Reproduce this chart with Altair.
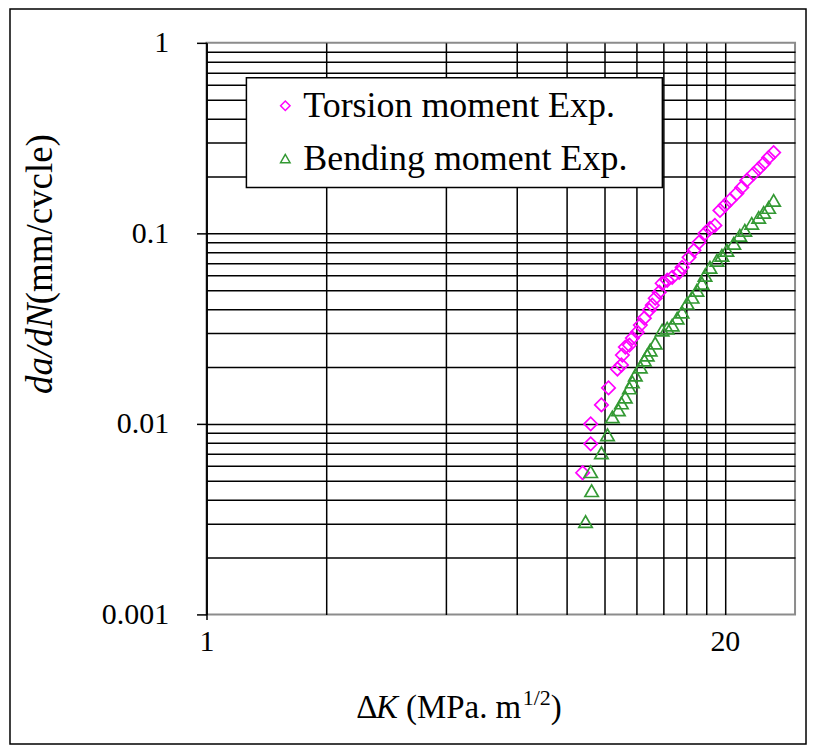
import altair as alt
import pandas as pd

# ---- data ----
series_names = ["Torsion moment Exp.", "Bending moment Exp."]

torsion_dk = [8.79, 9.21, 9.21, 9.80, 10.21, 10.75, 11.00, 11.06, 11.25, 11.52,
              11.72, 12.06, 12.27, 12.56, 12.92, 13.15, 13.37, 13.69, 13.92, 14.33,
              14.75, 15.36, 15.62, 16.26, 16.73, 17.22, 17.83, 18.35, 18.88, 19.44,
              20.00, 20.58, 21.43, 22.05, 22.70, 23.63, 24.32, 25.03, 25.76, 26.51]
torsion_rate = [0.00554, 0.00786, 0.0100, 0.01258, 0.01544, 0.01941, 0.02037, 0.02297, 0.0253, 0.02592,
                0.0282, 0.03031, 0.03299, 0.03589, 0.03952, 0.04198, 0.04566, 0.04911, 0.05473, 0.05674,
                0.05882, 0.06247, 0.06637, 0.07486, 0.08145, 0.08972, 0.1000, 0.1062, 0.1101, 0.1320,
                0.1401, 0.1489, 0.1620, 0.1741, 0.1895, 0.2061, 0.2189, 0.2325, 0.2500, 0.2655]

bending_dk = [8.94, 9.26, 9.21, 9.80, 10.15, 10.44, 10.81, 11.00, 11.25, 11.52,
              11.72, 11.92, 12.27, 12.56, 12.77, 12.99, 13.37, 13.92, 14.33, 14.75,
              15.18, 15.62, 16.08, 16.55, 17.02, 17.52, 17.83, 18.35, 19.10, 19.66,
              20.23, 21.06, 21.80, 22.44, 23.36, 24.32, 25.03, 25.76, 26.51]
bending_rate = [0.00307, 0.00446, 0.00561, 0.00705, 0.00876, 0.01088, 0.01184, 0.01288, 0.01384, 0.01544,
                0.0166, 0.01805, 0.01988, 0.02163, 0.02297, 0.0244, 0.02655, 0.03105, 0.03181, 0.03299,
                0.03589, 0.03858, 0.043, 0.04623, 0.05029, 0.05473, 0.06028, 0.06637, 0.07221, 0.07669,
                0.08145, 0.08866, 0.09761, 0.1037, 0.1128, 0.1213, 0.1288, 0.1368, 0.1489]

x_ticks = [1, 2, 4, 6, 8, 10, 12, 14, 16, 18, 20]
y_ticks = [0.001, 0.002, 0.003, 0.004, 0.005, 0.006, 0.007, 0.008, 0.009,
           0.01, 0.02, 0.03, 0.04, 0.05, 0.06, 0.07, 0.08, 0.09,
           0.1, 0.2, 0.3, 0.4, 0.5, 0.6, 0.7, 0.8, 0.9, 1]

colors = ["#FF00FF", "#339933"]
shapes = ["diamond", "triangle-up"]

df = pd.concat([
    pd.DataFrame({"dK": torsion_dk, "rate": torsion_rate, "series": series_names[0]}),
    pd.DataFrame({"dK": bending_dk, "rate": bending_rate, "series": series_names[1]}),
])
one = pd.DataFrame({"a": [0]})

FONT = "Liberation Serif, Times New Roman, serif"
W, H = 590, 573

is_pow10 = "abs(log(datum.value)/LN10 - round(log(datum.value)/LN10)) < 0.001"

leg = alt.Legend(
    orient="none", legendX=40, legendY=35, title=None, padding=10,
    labelFont=FONT, labelFontSize=36, labelLimit=700, labelColor="black",
    symbolSize=90, symbolStrokeWidth=1.5, symbolOffset=11, labelOffset=0,
    rowPadding=17,
)

points = alt.Chart(df).mark_point(filled=False, size=180, strokeWidth=1.7, opacity=1).encode(
    x=alt.X("dK:Q",
            scale=alt.Scale(type="log", base=20, domain=[1, 30], nice=False),
            axis=alt.Axis(values=x_ticks, title=None, domain=False,
                          labelExpr="datum.value == 1 || datum.value == 20 ? format(datum.value, 'd') : ''",
                          labelFont=FONT, labelFontSize=30, labelColor="black",
                          labelPadding=7, labelFlush=False, labelOverlap=False,
                          grid=True, gridColor="black", gridWidth=1.5,
                          tickSize=5, tickWidth=1.5,
                          tickColor={"condition": {"test": "datum.value == 1", "value": "black"},
                                     "value": "transparent"})),
    y=alt.Y("rate:Q",
            scale=alt.Scale(type="log", domain=[0.001, 1], nice=False),
            axis=alt.Axis(values=y_ticks, title=None,
                          labelExpr=is_pow10 + " ? format(datum.value, '~g') : ''",
                          labelFont=FONT, labelFontSize=30, labelColor="black",
                          labelPadding=28, labelFlush=False, labelOverlap=False,
                          domainColor="black", domainWidth=1.5,
                          grid=True, gridWidth=1.5,
                          gridColor={"condition": {"test": "datum.value == 1 || datum.value == 0.001",
                                                   "value": "transparent"},
                                     "value": "black"},
                          tickSize=10, tickWidth=1.5,
                          tickColor={"condition": {"test": is_pow10, "value": "black"},
                                     "value": "transparent"})),
    color=alt.Color("series:N", scale=alt.Scale(domain=series_names, range=colors), legend=leg),
    shape=alt.Shape("series:N", scale=alt.Scale(domain=series_names, range=shapes), legend=leg),
)

def txt(text, x, y, size=33, italic=False, angle=0, baseline="alphabetic", align="left"):
    kw = dict(text=text, font=FONT, fontSize=size, align=align, baseline=baseline, color="black")
    if italic:
        kw["fontStyle"] = "italic"
    if angle:
        kw["angle"] = angle
    return alt.Chart(one).mark_text(**kw).encode(x=alt.value(x), y=alt.value(y))

# x title pieces: ΔK (MPa. m^1/2)
xt_base = 719 - 42
x_title = [
    txt("Δ", 357 - 207, xt_base),
    txt("K", 377 - 207, xt_base, italic=True),
    txt("(MPa. m", 407 - 207, xt_base),
    txt("1/2", 524 - 207, xt_base - 13, size=22),
    txt(")", 552 - 207, xt_base),
]
# y title pieces: da/dN(mm/cvcle), rotated
y_title = [
    txt("da/dN", 41 - 207, 394 - 42, size=37, italic=True, angle=270, baseline="middle"),
    txt("(mm/cvcle)", 41 - 207, 394 - 42 - 90, size=37, angle=270, baseline="middle"),
]

# legend box (white, black border) drawn behind the legend entries
legend_box = alt.Chart(one).mark_rect(fill="white", stroke="black", strokeWidth=1.5).encode(
    x=alt.value(247 - 207), x2=alt.value(664 - 207), y=alt.value(77 - 42), y2=alt.value(187 - 42)
)

frame = alt.Chart(one).mark_rect(fillOpacity=0, stroke="black", strokeWidth=1.5).encode(
    x=alt.value(10 - 207), x2=alt.value(808 - 207), y=alt.value(8 - 42), y2=alt.value(745 - 42)
)

chart = alt.layer(legend_box, points, *x_title, *y_title, frame).properties(
    width=W, height=H,
    autosize=alt.AutoSizeParams(type="none"),
    padding={"left": 199, "top": 34, "right": 14, "bottom": 133},
    background="white",
).configure_view(stroke="#8c8c8c", strokeWidth=2)

chart.save("out.html", embed_options={"renderer": "svg", "actions": False})
